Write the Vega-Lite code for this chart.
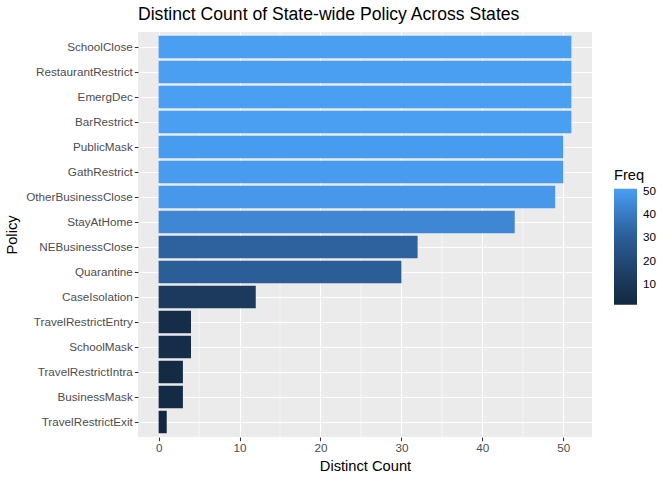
{
  "$schema": "https://vega.github.io/schema/vega-lite/v6.json",
  "autosize": {"type": "none"},
  "width": 454,
  "height": 405,
  "padding": {"left": 138, "top": 32, "right": 80, "bottom": 43},
  "background": "white",
  "config": {
    "font": "Liberation Sans",
    "view": {"fill": "#EBEBEB", "stroke": null},
    "axis": {
      "domain": false,
      "tickColor": "#333333",
      "tickSize": 3.7,
      "tickWidth": 1.07,
      "labelColor": "#4D4D4D",
      "labelFontSize": 11.7,
      "titleFontSize": 14.7,
      "titleFontWeight": "normal",
      "titleColor": "black",
      "gridColor": "white",
      "gridWidth": 1.07
    }
  },
  "title": {
    "text": "Distinct Count of State-wide Policy Across States",
    "anchor": "start",
    "frame": "group",
    "fontSize": 17.6,
    "fontWeight": "normal",
    "color": "black",
    "offset": 8
  },
  "datasets": {
    "policies": [
      {"Policy": "SchoolClose", "Freq": 51},
      {"Policy": "RestaurantRestrict", "Freq": 51},
      {"Policy": "EmergDec", "Freq": 51},
      {"Policy": "BarRestrict", "Freq": 51},
      {"Policy": "PublicMask", "Freq": 50},
      {"Policy": "GathRestrict", "Freq": 50},
      {"Policy": "OtherBusinessClose", "Freq": 49},
      {"Policy": "StayAtHome", "Freq": 44},
      {"Policy": "NEBusinessClose", "Freq": 32},
      {"Policy": "Quarantine", "Freq": 30},
      {"Policy": "CaseIsolation", "Freq": 12},
      {"Policy": "TravelRestrictEntry", "Freq": 4},
      {"Policy": "SchoolMask", "Freq": 4},
      {"Policy": "TravelRestrictIntra", "Freq": 3},
      {"Policy": "BusinessMask", "Freq": 3},
      {"Policy": "TravelRestrictExit", "Freq": 1}
    ],
    "minor": [{"v": 5}, {"v": 15}, {"v": 25}, {"v": 35}, {"v": 45}]
  },
  "layer": [
    {
      "data": {"name": "minor"},
      "mark": {"type": "rule", "color": "white", "strokeWidth": 0.55},
      "encoding": {
        "x": {"field": "v", "type": "quantitative", "scale": {"domain": [-2.55, 53.55], "nice": false, "zero": false}}
      }
    },
    {
      "data": {"name": "policies"},
      "mark": {"type": "bar"},
      "encoding": {
        "y": {
          "field": "Policy",
          "type": "nominal",
          "sort": ["SchoolClose", "RestaurantRestrict", "EmergDec", "BarRestrict", "PublicMask", "GathRestrict", "OtherBusinessClose", "StayAtHome", "NEBusinessClose", "Quarantine", "CaseIsolation", "TravelRestrictEntry", "SchoolMask", "TravelRestrictIntra", "BusinessMask", "TravelRestrictExit"],
          "scale": {"paddingInner": 0.1, "paddingOuter": 0.15},
          "axis": {"title": "Policy", "grid": true, "bandPosition": 0.5, "labelPadding": 2, "titlePadding": 6}
        },
        "x": {
          "field": "Freq",
          "type": "quantitative",
          "scale": {"domain": [-2.55, 53.55], "nice": false, "zero": false},
          "axis": {"title": "Distinct Count", "values": [0, 10, 20, 30, 40, 50], "labelPadding": 2, "titlePadding": 4}
        },
        "color": {
          "field": "Freq",
          "type": "quantitative",
          "scale": {"domain": [1, 12, 31, 44, 51], "range": ["#132840", "#1B3A5E", "#2C5F9A", "#3F87D5", "#4A9FF3"], "interpolate": "rgb"},
          "legend": {
            "orient": "none",
            "legendX": 476,
            "legendY": 136,
            "title": "Freq",
            "titleFontSize": 14.7,
            "titleFontWeight": "normal",
            "titleColor": "black",
            "titlePadding": 6,
            "labelFontSize": 11.7,
            "labelColor": "black",
            "gradientLength": 116,
            "gradientThickness": 23,
            "gradientStrokeWidth": 0,
            "values": [10, 20, 30, 40, 50],
            "labelOffset": 6
          }
        }
      }
    }
  ]
}
